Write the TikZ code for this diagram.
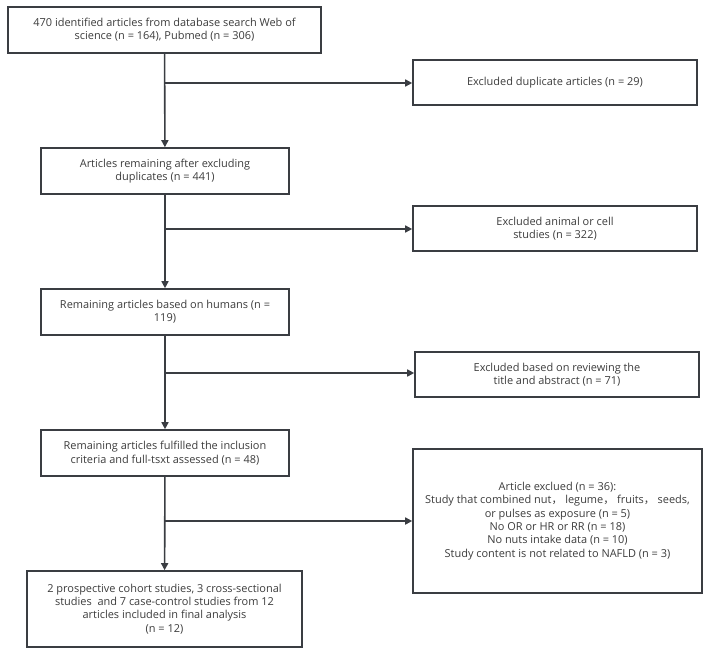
\documentclass[tikz,border=0pt]{standalone}
\usepackage{fontspec}
\setmainfont{Open Sans}
\newfontfamily\cjk{Noto Sans CJK SC}
\usetikzlibrary{arrows.meta}

\definecolor{linegray}{HTML}{3A3D42}
\definecolor{textgray}{HTML}{3C3C3C}

\begin{document}
\begin{tikzpicture}[x=1bp, y=-1bp,
    box/.style={draw=linegray, line width=1.6bp, align=center, inner sep=0pt,
        text=textgray, font=\fontsize{11}{13.4}\selectfont},
    flow/.style={draw=linegray, line width=1.6bp,
        -{Triangle[length=7bp, width=7bp]}}]
    \useasboundingbox (0,0) rectangle (710,656);

    % Main column
    \node[box, minimum width=313bp, minimum height=46bp] (search) at (164.5,30)
        {470 identified articles from database search Web of\\science (n = 164), Pubmed (n = 306)};
    \node[box, minimum width=248bp, minimum height=46bp] (dedup) at (165,171)
        {Articles remaining after excluding\\duplicates (n = 441)};
    \node[box, minimum width=248bp, minimum height=46bp] (humans) at (165,312)
        {Remaining articles based on humans (n =\\119)};
    \node[box, minimum width=248bp, minimum height=46bp] (fulltext) at (165,453)
        {Remaining articles fulfilled the inclusion\\criteria and full-tsxt assessed (n = 48)};
    \node[box, minimum width=275bp, minimum height=76bp] (final) at (164.5,609)
        {2 prospective cohort studies, 3 cross-sectional\\studies\ \ and 7 case-control studies from 12\\articles included in final analysis\\(n = 12)};

    % Excluded boxes
    \node[box, minimum width=284bp, minimum height=45bp] (exdup) at (555,82.5)
        {Excluded duplicate articles (n = 29)};
    \node[box, minimum width=284bp, minimum height=45bp] (exanimal) at (555,228.5)
        {Excluded animal or cell\\studies (n = 322)};
    \node[box, minimum width=284bp, minimum height=45bp] (exabstract) at (557,374.5)
        {Excluded based on reviewing the\\title and abstract (n = 71)};
    \node[box, minimum width=289bp, minimum height=144bp] (exfull) at (557.5,521)
        {Article exclued (n = 36):\\
         Study that combined nut{\cjk ，}\ legume{\cjk ，}\ fruits{\cjk ，}\ seeds,\\
         or pulses as exposure (n = 5)\\
         No OR or HR or RR (n = 18)\\
         No nuts intake data (n = 10)\\
         Study content is not related to NAFLD (n = 3)};

    % Branch points
    \coordinate (b1) at (165,83);
    \coordinate (b2) at (165,229);
    \coordinate (b3) at (165,373);
    \coordinate (b4) at (165,521);

    % Downward flow
    \draw[flow] (search) -- (dedup);
    \draw[flow] (dedup) -- (humans);
    \draw[flow] (humans) -- (fulltext);
    \draw[flow] (fulltext) -- (final);

    % Exclusions
    \draw[flow] (b1) -- (b1 -| exdup.west);
    \draw[flow] (b2) -- (b2 -| exanimal.west);
    \draw[flow] (b3) -- (b3 -| exabstract.west);
    \draw[flow] (b4) -- (b4 -| exfull.west);

\end{tikzpicture}
\end{document}
